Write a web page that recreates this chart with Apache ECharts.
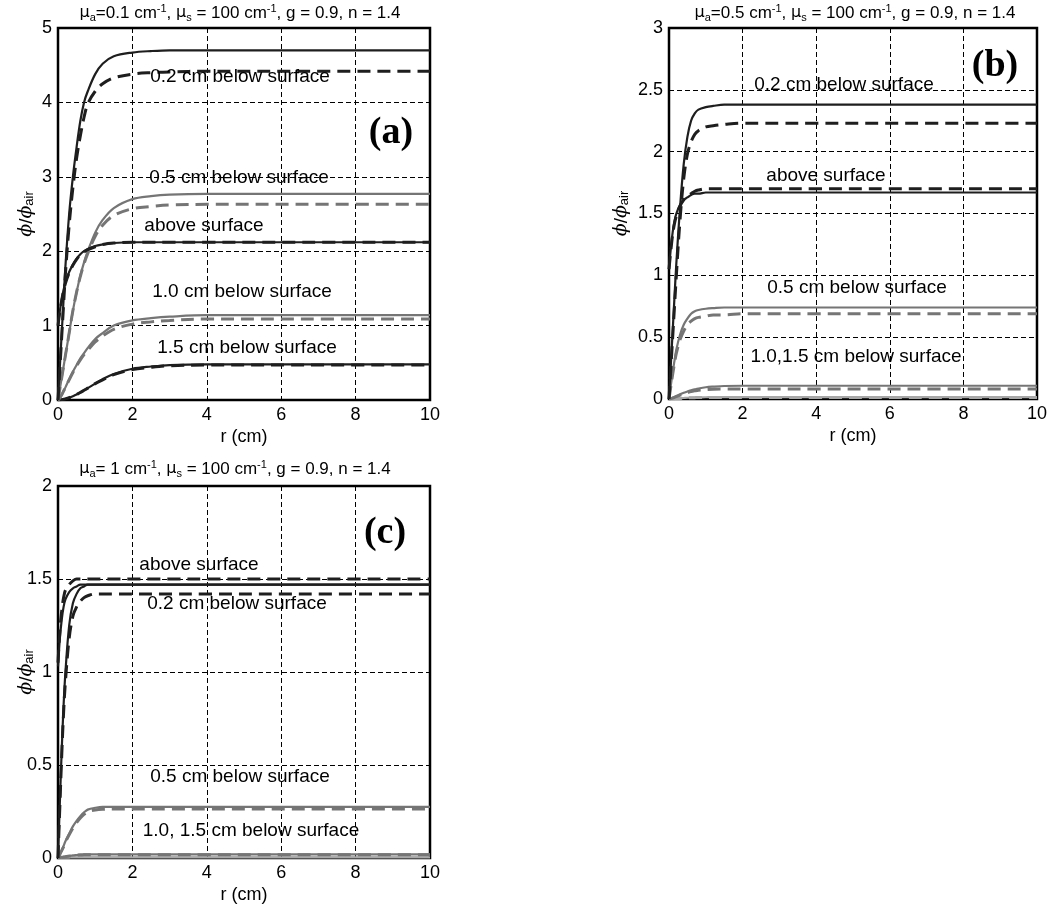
<!DOCTYPE html>
<html>
<head>
<meta charset="utf-8">
<script src="https://cdn.jsdelivr.net/npm/echarts@6/dist/echarts.min.js"></script>
<style>
html,body{margin:0;padding:0;background:#fff;}
#chart{width:1050px;height:906px;}
</style>
</head>
<body>
<div id="chart"></div>
<script>
// ---------- DATA ----------
const R = [0, 0.05, 0.1, 0.15, 0.2, 0.3, 0.4, 0.5, 0.6, 0.7, 0.8, 1.0, 1.2, 1.5, 2, 2.5, 3, 4, 6, 10];

// Panel (a): mu_a = 0.1
const a_02_solid  = [0, 0.45, 0.9, 1.35, 1.8, 2.5, 3.0, 3.4, 3.75, 4.0, 4.15, 4.38, 4.52, 4.62, 4.67, 4.69, 4.70, 4.70, 4.70, 4.70];
const a_02_dash   = [0, 0.42, 0.85, 1.28, 1.7, 2.35, 2.85, 3.25, 3.55, 3.8, 3.98, 4.15, 4.25, 4.33, 4.38, 4.40, 4.41, 4.42, 4.42, 4.42];
const a_05_solid  = [0, 0.15, 0.3, 0.45, 0.6, 0.9, 1.2, 1.45, 1.67, 1.85, 2.0, 2.25, 2.42, 2.58, 2.7, 2.74, 2.76, 2.77, 2.77, 2.77];
const a_05_dash   = [0, 0.15, 0.3, 0.45, 0.6, 0.9, 1.2, 1.45, 1.66, 1.83, 1.97, 2.2, 2.35, 2.48, 2.57, 2.6, 2.62, 2.63, 2.63, 2.63];
const a_ab_solid  = [1.0, 1.2, 1.35, 1.48, 1.58, 1.72, 1.82, 1.9, 1.96, 2.0, 2.03, 2.07, 2.09, 2.11, 2.12, 2.12, 2.12, 2.12, 2.12, 2.12];
const a_ab_dash   = [1.0, 1.19, 1.34, 1.47, 1.57, 1.71, 1.81, 1.89, 1.95, 1.99, 2.02, 2.06, 2.09, 2.11, 2.12, 2.12, 2.12, 2.12, 2.12, 2.12];
const a_10_solid  = [0, 0.03, 0.07, 0.12, 0.17, 0.28, 0.38, 0.47, 0.56, 0.63, 0.7, 0.82, 0.9, 1.0, 1.07, 1.1, 1.12, 1.14, 1.14, 1.14];
const a_10_dash   = [0, 0.03, 0.07, 0.12, 0.17, 0.27, 0.37, 0.46, 0.54, 0.61, 0.67, 0.78, 0.86, 0.95, 1.02, 1.05, 1.07, 1.09, 1.09, 1.09];
const a_15_solid  = [0, 0.002, 0.005, 0.01, 0.015, 0.03, 0.05, 0.075, 0.1, 0.13, 0.16, 0.22, 0.28, 0.35, 0.42, 0.45, 0.47, 0.48, 0.48, 0.48];
const a_15_dash   = [0, 0.002, 0.005, 0.01, 0.015, 0.03, 0.05, 0.075, 0.1, 0.13, 0.16, 0.22, 0.27, 0.34, 0.41, 0.44, 0.46, 0.47, 0.47, 0.47];

// Panel (b): mu_a = 0.5
const b_02_solid  = [0, 0.28, 0.55, 0.83, 1.1, 1.55, 1.9, 2.12, 2.25, 2.31, 2.34, 2.36, 2.37, 2.38, 2.38, 2.38, 2.38, 2.38, 2.38, 2.38];
const b_02_dash   = [0, 0.25, 0.5, 0.75, 1.0, 1.45, 1.78, 1.98, 2.08, 2.14, 2.17, 2.2, 2.21, 2.22, 2.23, 2.23, 2.23, 2.23, 2.23, 2.23];
const b_ab_solid  = [1.05, 1.22, 1.35, 1.44, 1.5, 1.57, 1.61, 1.63, 1.65, 1.66, 1.66, 1.67, 1.67, 1.67, 1.67, 1.67, 1.67, 1.67, 1.67, 1.67];
const b_ab_dash   = [1.05, 1.2, 1.33, 1.42, 1.48, 1.56, 1.61, 1.64, 1.66, 1.68, 1.69, 1.70, 1.70, 1.70, 1.70, 1.70, 1.70, 1.70, 1.70, 1.70];
const b_05_solid  = [0, 0.11, 0.22, 0.31, 0.4, 0.52, 0.6, 0.65, 0.69, 0.71, 0.72, 0.73, 0.735, 0.74, 0.74, 0.74, 0.74, 0.74, 0.74, 0.74];
const b_05_dash   = [0, 0.1, 0.2, 0.29, 0.37, 0.48, 0.55, 0.6, 0.63, 0.65, 0.66, 0.67, 0.68, 0.68, 0.69, 0.69, 0.69, 0.69, 0.69, 0.69];
const b_10_solid  = [0, 0.004, 0.01, 0.017, 0.024, 0.038, 0.05, 0.06, 0.07, 0.078, 0.085, 0.095, 0.1, 0.105, 0.107, 0.107, 0.107, 0.107, 0.107, 0.107];
const b_10_dash   = [0, 0.003, 0.008, 0.014, 0.02, 0.032, 0.043, 0.052, 0.06, 0.066, 0.071, 0.076, 0.079, 0.08, 0.08, 0.08, 0.08, 0.08, 0.08, 0.08];
const b_15_solid  = [0, 0.001, 0.002, 0.003, 0.004, 0.006, 0.008, 0.01, 0.011, 0.012, 0.013, 0.014, 0.015, 0.015, 0.015, 0.015, 0.015, 0.015, 0.015, 0.015];
const b_15_dash   = [0, 0.001, 0.002, 0.003, 0.004, 0.005, 0.007, 0.009, 0.01, 0.011, 0.012, 0.013, 0.013, 0.013, 0.013, 0.013, 0.013, 0.013, 0.013, 0.013];

// Panel (c): mu_a = 1
const c_ab_solid  = [1.03, 1.18, 1.28, 1.35, 1.39, 1.43, 1.45, 1.46, 1.47, 1.47, 1.47, 1.47, 1.47, 1.47, 1.47, 1.47, 1.47, 1.47, 1.47, 1.47];
const c_ab_dash   = [1.05, 1.22, 1.33, 1.4, 1.44, 1.47, 1.49, 1.5, 1.5, 1.5, 1.5, 1.5, 1.5, 1.5, 1.5, 1.5, 1.5, 1.5, 1.5, 1.5];
const c_02_solid  = [0, 0.3, 0.58, 0.82, 1.0, 1.25, 1.37, 1.42, 1.45, 1.46, 1.47, 1.47, 1.47, 1.47, 1.47, 1.47, 1.47, 1.47, 1.47, 1.47];
const c_02_dash   = [0, 0.28, 0.55, 0.78, 0.95, 1.18, 1.3, 1.35, 1.38, 1.4, 1.41, 1.42, 1.42, 1.42, 1.42, 1.42, 1.42, 1.42, 1.42, 1.42];
const c_05_solid  = [0, 0.02, 0.04, 0.065, 0.09, 0.13, 0.17, 0.2, 0.225, 0.245, 0.26, 0.27, 0.275, 0.275, 0.275, 0.275, 0.275, 0.275, 0.275, 0.275];
const c_05_dash   = [0, 0.02, 0.04, 0.06, 0.085, 0.125, 0.16, 0.19, 0.215, 0.235, 0.248, 0.258, 0.262, 0.263, 0.263, 0.263, 0.263, 0.263, 0.263, 0.263];
const c_10_solid  = [0, 0.002, 0.004, 0.006, 0.008, 0.011, 0.014, 0.016, 0.018, 0.019, 0.02, 0.02, 0.02, 0.02, 0.02, 0.02, 0.02, 0.02, 0.02, 0.02];
const c_10_dash   = [0, 0.002, 0.004, 0.005, 0.007, 0.01, 0.013, 0.015, 0.016, 0.017, 0.018, 0.018, 0.018, 0.018, 0.018, 0.018, 0.018, 0.018, 0.018, 0.018];
const c_15_solid  = [0, 0.0005, 0.001, 0.0015, 0.002, 0.0025, 0.003, 0.003, 0.003, 0.003, 0.003, 0.003, 0.003, 0.003, 0.003, 0.003, 0.003, 0.003, 0.003, 0.003];

// Axis ranges
const yMaxA = 5, yStepA = 1;
const yMaxB = 3, yStepB = 0.5;
const yMaxC = 2, yStepC = 0.5;

// Titles
const titles = [
  '{g|μ}{sub|a}=0.1 cm{sup|-1}, {g|μ}{sub|s} = 100 cm{sup|-1}, g = 0.9, n = 1.4',
  '{g|μ}{sub|a}=0.5 cm{sup|-1}, {g|μ}{sub|s} = 100 cm{sup|-1}, g = 0.9, n = 1.4',
  '{g|μ}{sub|a}= 1 cm{sup|-1}, {g|μ}{sub|s} = 100 cm{sup|-1}, g = 0.9, n = 1.4'
];

// ---------- STYLE ----------
const FONT = '"Liberation Sans", Arial, sans-serif';
const DARK = '#1e1e1e';
const GRAY = '#757575';
const LIGHT = '#a8a8a8';

const grids = [
  {left: 58, top: 28, width: 372, height: 372},
  {left: 669, top: 28, width: 371, height: 371},
  {left: 58, top: 486, width: 372, height: 372}
];

function mkX(gi) {
  return {
    type: 'value', gridIndex: gi, min: 0, max: 10, interval: 2,
    name: 'r (cm)', nameLocation: 'middle', nameGap: 28,
    nameTextStyle: {fontFamily: FONT, fontSize: 18, color: '#000'},
    axisLine: {show: false}, axisTick: {show: false},
    axisLabel: {fontFamily: FONT, fontSize: 18, color: '#000', margin: 6},
    splitLine: {show: true, lineStyle: {color: '#000', width: 1, type: [5, 3]}}
  };
}
function mkY(gi, max, step, gap) {
  return {
    type: 'value', gridIndex: gi, min: 0, max: max, interval: step,
    name: '{p|ϕ}/{p|ϕ}{sub|air}', nameLocation: 'middle', nameRotate: 90, nameGap: gap,
    nameMoveOverlap: false,
    nameTextStyle: {fontFamily: FONT, fontSize: 19, color: '#000',
      rich: {p: {fontFamily: '"DejaVu Serif", serif', fontStyle: 'italic', fontSize: 19},
             sub: {fontSize: 13, verticalAlign: 'bottom', fontFamily: FONT}}},
    axisLine: {show: false}, axisTick: {show: false},
    axisLabel: {fontFamily: FONT, fontSize: 18, color: '#000', margin: 6},
    splitLine: {show: true, lineStyle: {color: '#000', width: 1, type: [5, 3]}}
  };
}

function line(gi, ys, color, dashed) {
  return {
    type: 'line', xAxisIndex: gi, yAxisIndex: gi,
    data: R.map((r, i) => [r, ys[i]]),
    showSymbol: false, symbol: 'none',
    smooth: 0.35,
    lineStyle: {color: color, width: dashed ? 3 : 2.2, type: dashed ? [13, 7] : 'solid'},
    silent: true, animation: false
  };
}

const series = [
  // (a)
  line(0, a_15_solid, DARK, false), line(0, a_15_dash, DARK, true),
  line(0, a_10_solid, GRAY, false), line(0, a_10_dash, GRAY, true),
  line(0, a_05_solid, GRAY, false), line(0, a_05_dash, GRAY, true),
  line(0, a_ab_solid, DARK, false), line(0, a_ab_dash, DARK, true),
  line(0, a_02_solid, DARK, false), line(0, a_02_dash, DARK, true),
  // (b)
  line(1, b_15_solid, LIGHT, false), line(1, b_15_dash, LIGHT, true),
  line(1, b_10_solid, GRAY, false), line(1, b_10_dash, GRAY, true),
  line(1, b_05_solid, GRAY, false), line(1, b_05_dash, GRAY, true),
  line(1, b_ab_solid, DARK, false), line(1, b_ab_dash, DARK, true),
  line(1, b_02_solid, DARK, false), line(1, b_02_dash, DARK, true),
  // (c)
  line(2, c_15_solid, LIGHT, false),
  line(2, c_10_solid, GRAY, false), line(2, c_10_dash, GRAY, true),
  line(2, c_05_solid, GRAY, false), line(2, c_05_dash, GRAY, true),
  line(2, c_ab_solid, DARK, false), line(2, c_ab_dash, DARK, true),
  line(2, c_02_solid, DARK, false), line(2, c_02_dash, DARK, true)
];

const richTitle = {
  g: {fontFamily: '"DejaVu Sans", sans-serif', fontSize: 16},
  sub: {fontSize: 11, verticalAlign: 'bottom', fontFamily: FONT},
  sup: {fontSize: 11, verticalAlign: 'top', fontFamily: FONT}
};
function mkTitle(text, cx, top) {
  return {
    text: text, left: cx, top: top, textAlign: 'center',
    textStyle: {fontFamily: FONT, fontSize: 17, fontWeight: 'normal', color: '#000', lineHeight: 20, rich: richTitle}
  };
}

function ann(text, x, y) {
  return {type: 'text', x: x, y: y, z: 100, silent: true,
    style: {text: text, fill: '#000', font: '19px "Liberation Sans", Arial, sans-serif', align: 'center', verticalAlign: 'middle'}};
}
function tag(text, x, y) {
  return {type: 'text', x: x, y: y, z: 100, silent: true,
    style: {text: text, fill: '#000', font: 'bold 38px "Liberation Serif", "Times New Roman", serif', align: 'center', verticalAlign: 'middle'}};
}

const option = {
  backgroundColor: '#fff',
  animation: false,
  title: [mkTitle(titles[0], 235, -2), mkTitle(titles[1], 850, -2), mkTitle(titles[2], 230, 454)],
  grid: grids.map(g => Object.assign({show: true, borderColor: '#000', borderWidth: 2.5, backgroundColor: 'transparent'}, g)),
  xAxis: [mkX(0), mkX(1), mkX(2)],
  yAxis: [mkY(0, yMaxA, yStepA, 22), mkY(1, yMaxB, yStepB, 38), mkY(2, yMaxC, yStepC, 22)],
  series: series,
  graphic: [
    ann('0.2 cm below surface', 240, 77),
    ann('0.5 cm below surface', 239, 178),
    ann('above surface', 204, 226),
    ann('1.0 cm below surface', 242, 292),
    ann('1.5 cm below surface', 247, 348),
    tag('(a)', 391, 133),
    ann('0.2 cm below surface', 844, 85),
    ann('above surface', 826, 176),
    ann('0.5 cm below surface', 857, 288),
    ann('1.0,1.5 cm below surface', 856, 357),
    tag('(b)', 995, 66),
    ann('above surface', 199, 565),
    ann('0.2 cm below surface', 237, 604),
    ann('0.5 cm below surface', 240, 777),
    ann('1.0, 1.5 cm below surface', 251, 831),
    tag('(c)', 385, 533)
  ]
};

const chart = echarts.init(document.getElementById('chart'), null, {renderer: 'canvas'});
chart.setOption(option);
</script>
</body>
</html>
